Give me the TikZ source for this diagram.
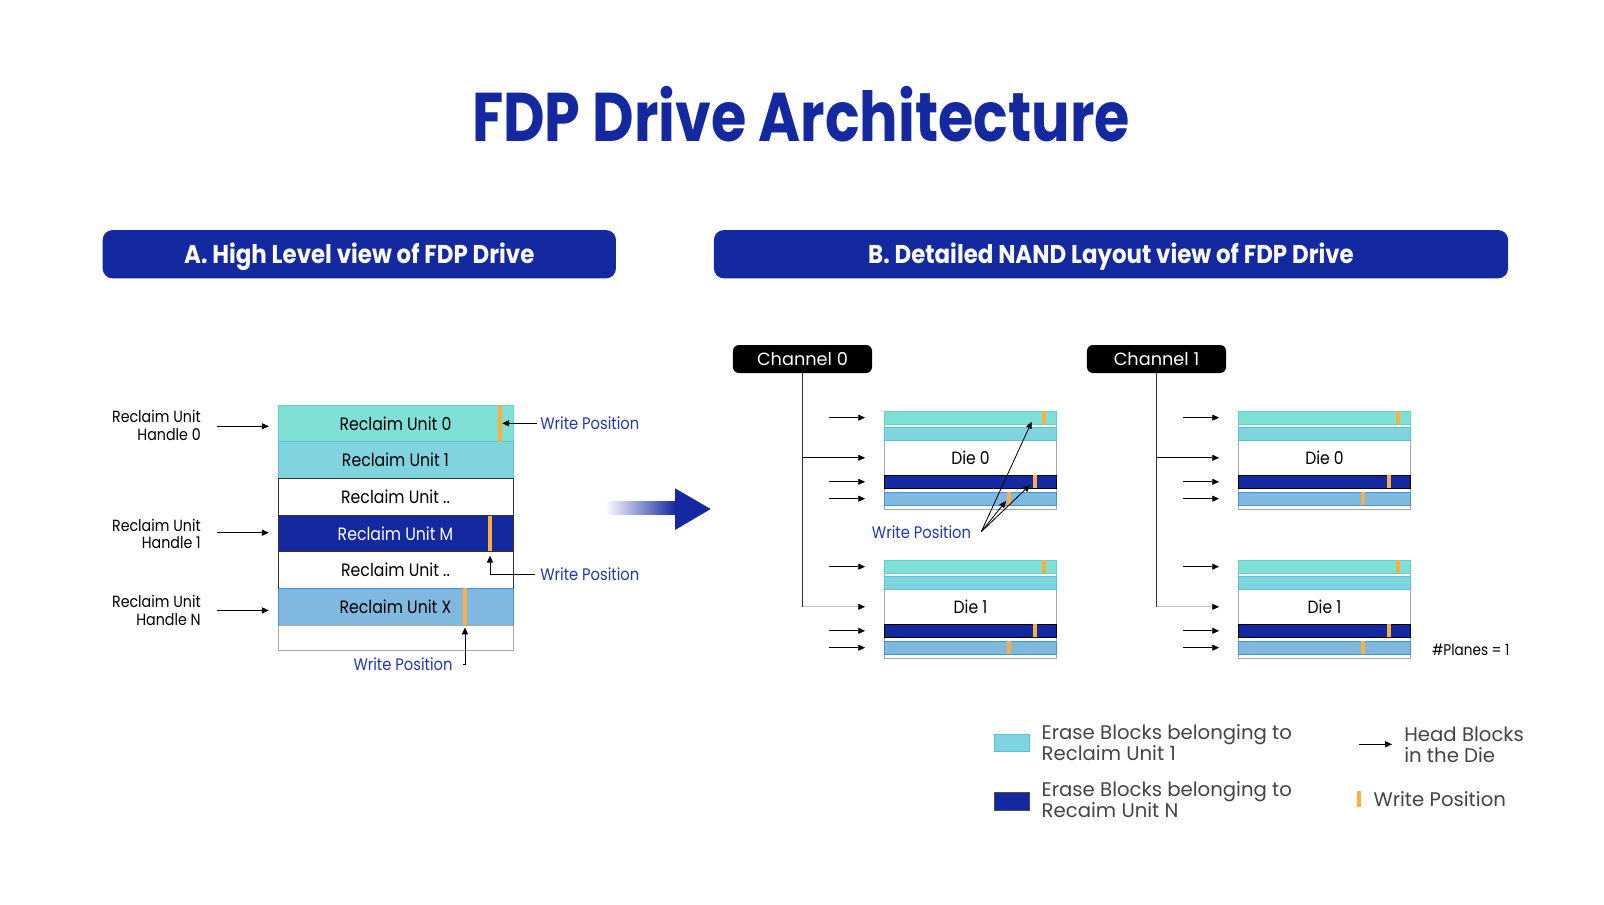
\documentclass[tikz,border=0pt]{standalone}
\usepackage{fontspec}
\setmainfont{Poppins}[FakeStretch=0.88]
\newfontfamily\titlefont{Poppins}[FakeStretch=0.83]
\newfontfamily\hdrfont{Poppins}[FakeStretch=0.89]
\newfontfamily\widefont{Poppins}
\usetikzlibrary{arrows.meta,positioning}
\definecolor{fdpblue}{HTML}{1428A0}
\definecolor{wptext}{HTML}{2236B4}
\definecolor{ruteal}{HTML}{80E0D6}
\definecolor{rucyan}{HTML}{80D4E0}
\definecolor{rulight}{HTML}{80B8E0}
\definecolor{tealedge}{HTML}{5ED3C7}
\definecolor{cyanedge}{HTML}{55C3D6}
\definecolor{lightedge}{HTML}{3F95DA}
\definecolor{wporange}{HTML}{FAAF40}
\definecolor{legendgray}{HTML}{444444}

\begin{document}
\begin{tikzpicture}[x=0.025cm,y=-0.025cm]
\tikzset{
  rurow/.style={minimum width=5.875cm,minimum height=0.9167cm,inner sep=0pt,outer sep=0pt,font=\fontsize{12.7}{15}\selectfont},
  rubar/.style={fill=wporange,minimum width=0.1125cm,minimum height=0.9167cm,inner sep=0pt,outer sep=0pt},
  handlelabel/.style={anchor=east,align=right,inner sep=0pt,font=\fontsize{11.5}{12.3}\selectfont},
  wplabel/.style={text=wptext,inner sep=0pt,font=\fontsize{11.9}{14}\selectfont},
  hdrbox/.style={fill=fdpblue,rounded corners=0.25cm,minimum height=1.2075cm,text depth=1pt,text=white,font=\hdrfont\bfseries\fontsize{18.3}{20}\selectfont},
  chanbox/.style={fill=black,rounded corners=1.5mm,minimum width=3.475cm,minimum height=0.7cm,text=white,inner sep=0pt,font=\widefont\fontsize{12.6}{15}\selectfont},
  dieframe/.style={draw=gray!70,line width=0.6pt,minimum width=4.31cm,minimum height=2.4575cm,inner sep=0pt,outer sep=0pt},
  diestrip/.style={minimum width=4.31cm,minimum height=0.33cm,inner sep=0pt,outer sep=0pt,line width=0.6pt},
  diebody/.style={minimum width=4.31cm,minimum height=0.875cm,inner sep=0pt,outer sep=0pt,font=\fontsize{12.6}{14}\selectfont},
  diebar/.style={fill=wporange,minimum width=0.1075cm,minimum height=0.33cm,inner sep=0pt,outer sep=0pt},
  headarrow/.style={-{Triangle[length=1.7mm,width=1.5mm,color=black]},line width=0.6pt},
  legendtext/.style={anchor=west,align=left,inner sep=0pt,text=legendgray,font=\widefont\fontsize{14}{15}\selectfont}
}
\fill[white] (0,0) rectangle (1604,904);
\useasboundingbox (0,0) rectangle (1604,904);

\node[anchor=base,inner sep=0pt,text=fdpblue,font=\titlefont\bfseries\fontsize{49}{55}\selectfont] (n_title) at (801,141.7) {FDP Drive Architecture};
\node[hdrbox,minimum width=12.83cm] (n_hdrA) at (359.3,254.2) {A. High Level view of FDP Drive};
\node[hdrbox,minimum width=19.85cm] (n_hdrB) at (1111,254.2) {B. Detailed NAND Layout view of FDP Drive};

\node[rurow,fill=ruteal,draw=tealedge] (n_ru0) at (395.5,423.3) {Reclaim Unit 0};
\node[rurow,fill=rucyan,draw=cyanedge] (n_ru1) at (395.5,460) {Reclaim Unit 1};
\node[rurow,fill=white,draw=black!80] (n_rua) at (395.5,496.7) {Reclaim Unit ..};
\node[rurow,fill=fdpblue,draw=black!80,text=white] (n_ruM) at (395.5,533.3) {Reclaim Unit M};
\node[rurow,fill=white,draw=black!80] (n_rub) at (395.5,570) {Reclaim Unit ..};
\node[rurow,fill=rulight,draw=lightedge] (n_ruX) at (395.5,606.7) {Reclaim Unit X};
\node[rurow,fill=white,draw=gray!70,minimum height=0.625cm] (n_ruE) at (395.5,637.5) {};
\node[rubar] (n_bar0) at (500,423.3) {};
\node[rubar,minimum height=0.875cm] (n_barM) at (490,533.2) {};
\node[rubar] (n_barX) at (465,606.7) {};

\node[handlelabel] (n_h0) at (201,425.3) {Reclaim Unit\\Handle 0};
\node[handlelabel] (n_h1) at (201,533.7) {Reclaim Unit\\Handle 1};
\node[handlelabel] (n_hN) at (201,610.4) {Reclaim Unit\\Handle N};
\draw[headarrow,shorten <=4mm,shorten >=2.3mm] ([yshift=-0.7pt]n_h0.east) -- ([yshift=-0.7pt]n_h0.east -| n_ru0.west);
\draw[headarrow,shorten <=4mm,shorten >=2.3mm] ([yshift=0.7pt]n_h1.east) -- ([yshift=0.7pt]n_h1.east -| n_ruM.west);
\draw[headarrow,shorten <=4mm,shorten >=2.3mm] (n_hN.east) -- (n_hN.east -| n_ruX.west);

\node[wplabel,anchor=west] (n_wp0) at (540,423.3) {Write Position};
\node[wplabel,anchor=west] (n_wpM) at (540,574) {Write Position};
\node[wplabel] (n_wpX) at (403,664) {Write Position};
\draw[headarrow,shorten <=0.75mm] (n_wp0.west) -- (n_wp0.west -| n_bar0.east);
\draw[headarrow,shorten <=1.35mm,shorten >=1.25mm] (n_wpM.west) -| (n_barM.south);
\draw[headarrow,shorten >=0.6mm] ([xshift=2.6mm]n_wpX.east) -| (n_barX.south);

\shade[left color=white,right color=fdpblue] (605,501.7) rectangle (676,514.3);
\fill[fdpblue] (675,488.3) -- (710.7,509) -- (675,530) -- cycle;

\node[chanbox] (n_ch0) at (802.5,359) {Channel 0};
\node[chanbox] (n_ch1) at (1156.5,359) {Channel 1};

\node[dieframe] (n_c0d0_f) at (970.5,460.15) {};
\node[diestrip,fill=ruteal,draw=tealedge] (n_c0d0_t) at (970.5,417.65) {};
\node[diestrip,fill=rucyan,draw=cyanedge] (n_c0d0_c) at (970.5,433.65) {};
\node[diebody] (n_c0d0) at (970.5,457.8) {Die 0};
\node[diestrip,fill=fdpblue,draw=black] (n_c0d0_d) at (970.5,481.8) {};
\node[diestrip,fill=rulight,draw=lightedge] (n_c0d0_l) at (970.5,498.65) {};
\node[diebar] (n_c0d0_tb) at (1043.7,417.65) {};
\node[diebar] (n_c0d0_db) at (1035.3,481.8) {};
\node[diebar] (n_c0d0_lb) at (1008.8,498.65) {};

\node[dieframe] (n_c0d1_f) at (970.5,609.15) {};
\node[diestrip,fill=ruteal,draw=tealedge] (n_c0d1_t) at (970.5,566.65) {};
\node[diestrip,fill=rucyan,draw=cyanedge] (n_c0d1_c) at (970.5,582.65) {};
\node[diebody] (n_c0d1) at (970.5,606.8) {Die 1};
\node[diestrip,fill=fdpblue,draw=black] (n_c0d1_d) at (970.5,630.8) {};
\node[diestrip,fill=rulight,draw=lightedge] (n_c0d1_l) at (970.5,647.65) {};
\node[diebar] (n_c0d1_tb) at (1043.7,566.65) {};
\node[diebar] (n_c0d1_db) at (1035.3,630.8) {};
\node[diebar] (n_c0d1_lb) at (1008.8,647.65) {};

\node[dieframe] (n_c1d0_f) at (1324.5,460.15) {};
\node[diestrip,fill=ruteal,draw=tealedge] (n_c1d0_t) at (1324.5,417.65) {};
\node[diestrip,fill=rucyan,draw=cyanedge] (n_c1d0_c) at (1324.5,433.65) {};
\node[diebody] (n_c1d0) at (1324.5,457.8) {Die 0};
\node[diestrip,fill=fdpblue,draw=black] (n_c1d0_d) at (1324.5,481.8) {};
\node[diestrip,fill=rulight,draw=lightedge] (n_c1d0_l) at (1324.5,498.65) {};
\node[diebar] (n_c1d0_tb) at (1397.7,417.65) {};
\node[diebar] (n_c1d0_db) at (1389.3,481.8) {};
\node[diebar] (n_c1d0_lb) at (1362.8,498.65) {};

\node[dieframe] (n_c1d1_f) at (1324.5,609.15) {};
\node[diestrip,fill=ruteal,draw=tealedge] (n_c1d1_t) at (1324.5,566.65) {};
\node[diestrip,fill=rucyan,draw=cyanedge] (n_c1d1_c) at (1324.5,582.65) {};
\node[diebody] (n_c1d1) at (1324.5,606.8) {Die 1};
\node[diestrip,fill=fdpblue,draw=black] (n_c1d1_d) at (1324.5,630.8) {};
\node[diestrip,fill=rulight,draw=lightedge] (n_c1d1_l) at (1324.5,647.65) {};
\node[diebar] (n_c1d1_tb) at (1397.7,566.65) {};
\node[diebar] (n_c1d1_db) at (1389.3,630.8) {};
\node[diebar] (n_c1d1_lb) at (1362.8,647.65) {};

\draw[line width=0.6pt,black!80] (n_ch0.south) -- (n_ch0.south |- n_c0d1.west);
\draw[line width=0.6pt,black!80] (n_ch1.south) -- (n_ch1.south |- n_c1d1.west);
\draw[headarrow,shorten >=4.8mm] (n_ch0.south |- n_c0d0.west) -- (n_c0d0.west);
\draw[headarrow,gray!50,shorten >=4.8mm] (n_ch0.south |- n_c0d1.west) -- (n_c0d1.west);
\draw[headarrow,shorten >=4.8mm] (n_ch1.south |- n_c1d0.west) -- (n_c1d0.west);
\draw[headarrow,gray!50,shorten >=4.8mm] (n_ch1.south |- n_c1d1.west) -- (n_c1d1.west);

\coordinate (a_c0d0_t) at (829.3,417.65);
\coordinate (a_c0d0_d) at (829.3,481.8);
\coordinate (a_c0d0_l) at (829.3,498.65);
\coordinate (a_c0d1_t) at (829.3,566.65);
\coordinate (a_c0d1_d) at (829.3,630.8);
\coordinate (a_c0d1_l) at (829.3,647.65);
\coordinate (a_c1d0_t) at (1183.3,417.65);
\coordinate (a_c1d0_d) at (1183.3,481.8);
\coordinate (a_c1d0_l) at (1183.3,498.65);
\coordinate (a_c1d1_t) at (1183.3,566.65);
\coordinate (a_c1d1_d) at (1183.3,630.8);
\coordinate (a_c1d1_l) at (1183.3,647.65);
\draw[headarrow,shorten >=4.8mm] (a_c0d0_t) -- (a_c0d0_t -| n_c0d0_t.west);
\draw[headarrow,shorten >=4.8mm] (a_c0d0_d) -- (a_c0d0_d -| n_c0d0_d.west);
\draw[headarrow,shorten >=4.8mm] (a_c0d0_l) -- (a_c0d0_l -| n_c0d0_l.west);
\draw[headarrow,shorten >=4.8mm] (a_c0d1_t) -- (a_c0d1_t -| n_c0d1_t.west);
\draw[headarrow,shorten >=4.8mm] (a_c0d1_d) -- (a_c0d1_d -| n_c0d1_d.west);
\draw[headarrow,shorten >=4.8mm] (a_c0d1_l) -- (a_c0d1_l -| n_c0d1_l.west);
\draw[headarrow,shorten >=4.8mm] (a_c1d0_t) -- (a_c1d0_t -| n_c1d0_t.west);
\draw[headarrow,shorten >=4.8mm] (a_c1d0_d) -- (a_c1d0_d -| n_c1d0_d.west);
\draw[headarrow,shorten >=4.8mm] (a_c1d0_l) -- (a_c1d0_l -| n_c1d0_l.west);
\draw[headarrow,shorten >=4.8mm] (a_c1d1_t) -- (a_c1d1_t -| n_c1d1_t.west);
\draw[headarrow,shorten >=4.8mm] (a_c1d1_d) -- (a_c1d1_d -| n_c1d1_d.west);
\draw[headarrow,shorten >=4.8mm] (a_c1d1_l) -- (a_c1d1_l -| n_c1d1_l.west);

\node[wplabel,anchor=west] (n_wpD) at (871.7,531.7) {Write Position};
\coordinate (t_wp1) at (1031.7,421.7);
\coordinate (t_wp2) at (1030,485);
\coordinate (t_wp3) at (1006,501);
\draw[headarrow] ([xshift=2.5mm]n_wpD.east) -- (t_wp1);
\draw[headarrow] ([xshift=2.5mm]n_wpD.east) -- (t_wp2);
\draw[headarrow] ([xshift=2.5mm]n_wpD.east) -- (t_wp3);

\node[anchor=west,inner sep=0pt,font=\fontsize{11}{13}\selectfont] (n_planes) at (1431.7,650) {\#Planes = 1};

\node[fill=rucyan,draw=cyanedge,minimum width=0.865cm,minimum height=0.44cm,inner sep=0pt] (n_lgc) at (1011.6,742.8) {};
\node[legendtext] (n_lgct) at (1041.4,742.8) {Erase Blocks belonging to\\Reclaim Unit 1};
\node[fill=fdpblue,draw=black!70,minimum width=0.865cm,minimum height=0.44cm,inner sep=0pt] (n_lgd) at (1011.6,801) {};
\node[legendtext] (n_lgdt) at (1041.4,800) {Erase Blocks belonging to\\Recaim Unit N};
\coordinate (c_lgh) at (1359,744.3);
\node[legendtext] (n_lght) at (1404,745.2) {Head Blocks\\in the Die};
\draw[headarrow,shorten >=3mm] (c_lgh) -- (c_lgh -| n_lght.west);
\node[fill=wporange,minimum width=0.115cm,minimum height=0.415cm,inner sep=0pt] (n_lgw) at (1359,799) {};
\node[legendtext] (n_lgwt) at (1373.3,799) {Write Position};
\end{tikzpicture}
\end{document}
